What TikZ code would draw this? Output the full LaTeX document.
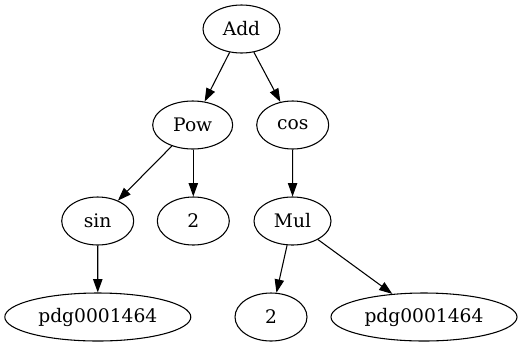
\documentclass[tikz,border=0pt]{standalone}
\usepackage{fontspec}
\setmainfont{DejaVu Serif}
\usepackage{tikz}
\usetikzlibrary{shapes.geometric, arrows.meta}

\begin{document}
\begin{tikzpicture}[
    x=0.75pt, y=-0.75pt,
    op/.style={ellipse, draw, line width=0.8pt, inner sep=0pt, minimum width=54pt, minimum height=36pt, font=\fontsize{14}{16}\selectfont},
    wide/.style={op, minimum width=139.5pt},
    arrow/.style={-{Triangle[length=10pt, width=7pt]}, line width=0.8pt}
]
    \useasboundingbox (0,0) rectangle (523,347);

    % Nodes
    \node[op, minimum width=57.75pt] (add) at (241.5,29) {Add};
    \node[op, minimum width=60pt] (pow) at (192.7,125) {Pow};
    \node[op] (cos) at (292.7,125) {cos};
    \node[op] (sin) at (97.7,221) {sin};
    \node[op] (exp) at (193.3,221) {2};
    \node[op, minimum width=57.75pt] (mul) at (292.5,221) {Mul};
    \node[wide] (sym1) at (97.8,317) {pdg0001464};
    \node[op] (coef) at (271,317) {2};
    \node[wide] (sym2) at (424,317) {pdg0001464};

    % Arrows
    \draw[arrow] (add) -- (pow);
    \draw[arrow] (add) -- (cos);
    \draw[arrow] (pow) -- (sin);
    \draw[arrow] (pow.south -| exp) -- (exp);
    \draw[arrow] (cos) -- (mul);
    \draw[arrow] (sin) -- (sym1);
    \draw[arrow] (mul) -- (coef);
    \draw[arrow] (mul) -- (sym2);
\end{tikzpicture}
\end{document}
